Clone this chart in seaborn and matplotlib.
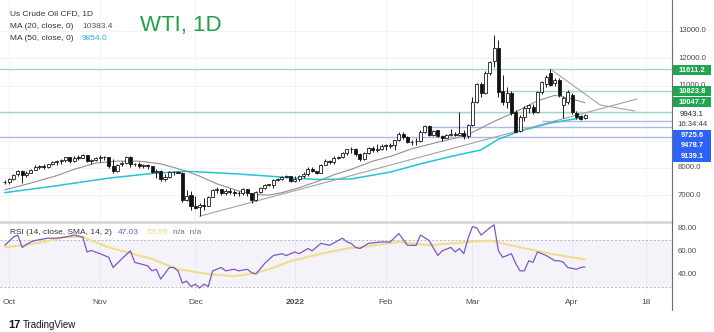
import numpy as np
import pandas as pd
import matplotlib
matplotlib.use("Agg")
import matplotlib.pyplot as plt
from matplotlib.lines import Line2D
from matplotlib.patches import Rectangle
import matplotlib.transforms as mtransforms
import seaborn as sns

sns.set_theme(style="white")
plt.rcParams['font.family'] = ['Liberation Sans', 'DejaVu Sans']

# ---------------- data ----------------
dates = pd.bdate_range('2021-09-30', '2022-04-06')

opens = [7480, 7503, 7590, 7765, 7890, 7740, 7830, 7940, 8050, 8060, 8040, 8130, 8230, 8250, 8300, 8390, 8250, 8380, 8380, 8460, 8270, 8280,
         8360, 8400, 8390, 8080, 7880, 8130, 8190, 8410, 8130, 8160, 8080, 8090, 8070, 7840, 7900, 7590, 7680, 7850, 7840, 7830, 6820, 7000,
         6620, 6560, 6650, 6630, 6950, 7200, 7240, 7090, 7170, 7130, 7070, 7090, 7240, 7080, 6820, 7110, 7280, 7380, 7390, 7560, 7600, 7660, 7700,
         7520, 7610, 7700, 7790, 7950, 7890, 7820, 8120, 8260, 8210, 8380, 8410, 8540, 8700, 8690, 8510, 8330, 8560, 8740, 8660, 8680,
         8820, 8820, 8830, 9030, 9230, 9130, 8940, 8970, 8990, 9310, 9550, 9210, 9370, 9180, 9110, 9190, 9240, 9210, 9280, 9160,
         9580, 10420, 11050, 10740, 11480, 11900, 12380, 10800, 10420, 10740, 10030, 9360, 9850, 10190, 10230, 10050, 10760, 11050,
         11470, 11100, 11210, 10300, 10400, 10660, 10000, 9900, 9830]
highs = [7560, 7620, 7790, 7920, 7940, 7900, 7970, 8110, 8100, 8140, 8160, 8250, 8300, 8320, 8400, 8410, 8420, 8470, 8500, 8470, 8330, 8400,
         8460, 8430, 8400, 8320, 8160, 8240, 8440, 8430, 8200, 8210, 8160, 8150, 8080, 7970, 7940, 7770, 7880, 7890, 7880, 7840, 7180, 7150,
         6960, 6710, 6900, 6980, 7240, 7310, 7250, 7220, 7260, 7180, 7150, 7280, 7240, 7090, 7150, 7300, 7400, 7420, 7580, 7640, 7710, 7750, 7710,
         7690, 7740, 7850, 8020, 8020, 7900, 8160, 8310, 8290, 8430, 8450, 8600, 8710, 8770, 8720, 8530, 8590, 8760, 8800, 8890, 8880,
         8860, 8900, 9030, 9320, 9300, 9160, 9030, 9080, 9400, 9580, 9560, 9390, 9390, 9220, 9250, 9430, 9300, 10050, 9370, 9620,
         10600, 11100, 11150, 11550, 11900, 12850, 12670, 11400, 10950, 10800, 10100, 9950, 10250, 10350, 10320, 10800, 11180, 11400,
         11610, 11300, 11280, 10620, 10850, 10720, 10080, 9950, 9980]
lows = [7410, 7430, 7560, 7720, 7470, 7670, 7810, 7920, 7960, 7950, 8000, 8100, 8100, 8150, 8220, 8200, 8230, 8280, 8350, 8230, 8140, 8250,
        8230, 8300, 8000, 7810, 7860, 8090, 8150, 8040, 8090, 7990, 7990, 7970, 7810, 7630, 7540, 7510, 7620, 7740, 7800, 6760, 6800, 6450,
        6500, 6240, 6480, 6620, 6930, 7100, 7010, 7000, 7040, 6990, 6990, 7030, 6960, 6740, 6810, 7080, 7250, 7350, 7280, 7530, 7550, 7630, 7490,
        7480, 7540, 7630, 7690, 7870, 7790, 7810, 8100, 8130, 8150, 8340, 8360, 8460, 8550, 8450, 8240, 8300, 8510, 8600, 8600, 8640,
        8670, 8740, 8660, 8990, 9050, 8900, 8850, 8830, 8950, 9270, 9170, 9170, 9120, 8980, 9080, 9170, 9180, 9200, 9050, 9110,
        9540, 10380, 10600, 10700, 11400, 11700, 10600, 10300, 10200, 9950, 9350, 9300, 9700, 10020, 9980, 10000, 10700, 10950,
        10980, 10990, 10600, 9830, 10350, 9980, 9800, 9740, 9780]
closes = [7503, 7588, 7762, 7893, 7743, 7830, 7935, 8052, 8064, 8044, 8131, 8228, 8244, 8296, 8387, 8250, 8376, 8376, 8465, 8266, 8281, 8357,
          8405, 8391, 8086, 7881, 8127, 8193, 8415, 8134, 8159, 8079, 8088, 8076, 7836, 7901, 7594, 7675, 7850, 7839, 7830, 6815, 6995, 6618,
          6557, 6650, 6626, 6949, 7205, 7236, 7094, 7167, 7129, 7073, 7087, 7238, 7086, 6823, 7112, 7276, 7379, 7390, 7557, 7598, 7656, 7699, 7521,
          7608, 7699, 7785, 7946, 7890, 7823, 8122, 8264, 8212, 8382, 8410, 8543, 8696, 8690, 8514, 8331, 8560, 8735, 8661, 8682, 8815,
          8820, 8826, 9027, 9231, 9132, 8936, 8966, 8988, 9310, 9546, 9207, 9366, 9176, 9107, 9190, 9235, 9210, 9281, 9159, 9572,
          10420, 11050, 10740, 11480, 11850, 12380, 10780, 10420, 10740, 10020, 9330, 9850, 10190, 10300, 10050, 10760, 11120, 11320,
          11040, 11210, 10660, 10550, 10770, 10040, 9870, 9790, 9943]

# moving averages (bar index, value)
ma20_idx = [0, 6, 12, 16, 21, 26, 31, 36, 39, 42, 45, 49, 54, 58, 61, 64, 68, 72, 76, 80, 85, 89, 94, 99, 103, 107, 113, 118, 123, 127, 130, 134]
ma20_val = [7200, 7450, 7720, 7950, 8180, 8250, 8250, 8150, 8020, 7880, 7700, 7420, 7160, 7030, 7010, 7100, 7280, 7500, 7750, 7950,
            8250, 8420, 8700, 8900, 9050, 9220, 9700, 10050, 10450, 10650, 10560, 10383.4]
ma50_idx = [0, 11, 24, 34, 42, 53, 63, 72, 80, 89, 96, 103, 110, 114, 119, 126, 134]
ma50_val = [7100, 7330, 7630, 7800, 7880, 7790, 7680, 7580, 7600, 7850, 8150, 8420, 8660, 9050, 9350, 9640, 9854.0]

# RSI (14) and its SMA
rsi_idx = [0, 2, 3, 4, 6, 7, 10, 12, 14, 16, 18, 19, 20, 22, 24, 25, 27, 29, 30, 31, 33, 34, 35, 36, 38, 39, 40, 41, 42, 43, 44, 45,
           46, 47, 48, 50, 51, 53, 54, 56, 57, 58, 60, 62, 64, 65, 67, 68, 70, 71, 73, 75, 77, 78, 79, 80, 81, 82, 84, 87, 89, 91,
           93, 95, 96, 98, 100, 101, 103, 104, 105, 106, 107, 108, 109, 110, 112, 113, 114, 115, 117, 118, 119, 120, 121, 122, 123,
           124, 125, 127, 128, 129, 130, 132, 133, 134]
rsi_val = [65.8, 73, 74.7, 64, 68.7, 70, 72, 72, 73, 74.7, 73, 60, 61.3, 58.5, 55.4, 46.5, 54, 61, 51, 50, 48, 43.6, 45, 36.4, 46.5,
           46.5, 43.6, 33, 34.7, 30, 32, 28.7, 32, 30, 43.6, 46.5, 43.6, 45, 43.6, 45, 42, 40.8, 50, 56.9, 58.5, 56.9, 60, 58.5, 63,
           61, 67.5, 65.8, 70, 72, 68.7, 67.5, 64, 63, 67.5, 68.7, 68.7, 76, 65.8, 65.8, 74.7, 70, 57, 61, 64, 60, 63, 58.5, 72, 82,
           81, 74.7, 81, 83.6, 61, 55.4, 58.5, 50, 43.6, 43.6, 52.4, 51, 60, 58.5, 57, 52.4, 52.4, 51, 46.5, 45, 46.5, 47.03]
rsi_sma_idx = [0, 8, 14, 18, 24, 34, 40, 47, 53, 57, 61, 66, 73, 79, 82, 91, 98, 107, 112, 119, 126, 130, 134]
rsi_sma_val = [64, 68, 73, 73, 64, 54, 45, 40.8, 39, 41, 45, 52, 58.5, 63, 64, 68.7, 65.8, 68.7, 70, 64, 58.5, 56, 53.59]

# drawn objects: horizontal levels (value, starting bar) and trend lines (bar, price)
green_levels = [11611.2, 10823.8, 10047.7]
green_start = [-2, 114, -2]
blue_levels = [9725.6, 9478.7, 9139.1]
blue_start = [124, 97, -2]
up_trend_idx = [45, 146]
up_trend_val = [6240, 10518]
down_trend_idx = [126, 137.5, 145.5]
down_trend_val = [11610, 10300, 10080]

last_price = 9943.1
grid_ticks = [7000, 8000, 9000, 10000, 11000, 12000, 13000]
shown_price_ticks = [7000, 8000, 11000, 12000, 13000]   # 9000/10000 are hidden behind the level labels
rsi_ticks = [40, 60, 80]
month_labels = ['Oct', 'Nov', 'Dec', '2022', 'Feb', 'Mar', 'Apr', '18']
month_dates = ['2021-10-01', '2021-11-01', '2021-12-01', '2022-01-03', '2022-02-01', '2022-03-01', '2022-04-01']

assert len(dates) == len(opens) == len(highs) == len(lows) == len(closes)

# ---------------- layout ----------------
W, H = 714, 332
fig = plt.figure(figsize=(W / 100, H / 100), dpi=100)
fig.patch.set_facecolor('white')
PXB, X0 = 4.33, 4.8          # pixels per bar, pixel of bar 0
CHART_R = 672
xlim = ((0 - X0) / PXB, (CHART_R - X0) / PXB)

def fy(py):
    return 1 - py / H

ax = fig.add_axes([0, fy(221), CHART_R / W, 221 / H])
ax.set_xlim(*xlim)
ax.set_ylim(6065, 14131)
ax.set_axis_off()

axr = fig.add_axes([0, fy(293), CHART_R / W, 70 / H])
axr.set_xlim(*xlim)
axr.set_ylim(24.35, 85.2)
axr.set_axis_off()

idx = np.arange(len(dates))
tick_pos = [int(dates.get_loc(pd.Timestamp(d))) for d in month_dates]
tick_pos.append(tick_pos[-1] + (pd.Timestamp('2022-04-18') - pd.Timestamp('2022-04-01')).days)

# grid
for t in grid_ticks:
    ax.axhline(t, color='#f0f3fa', lw=0.7, zorder=0)
for p in tick_pos:
    ax.axvline(p, color='#f0f3fa', lw=0.7, zorder=0)
    axr.axvline(p, color='#f0f3fa', lw=0.7, zorder=0)

# levels
for lv, st in zip(green_levels, green_start):
    ax.hlines(lv, st, xlim[1], color='#9fd9bf', lw=1.0, zorder=1)
for lv, st in zip(blue_levels, blue_start):
    ax.hlines(lv, st, xlim[1], color='#a9b9f2', lw=1.0, zorder=1)

# moving averages & trend lines
sns.lineplot(x=ma50_idx, y=ma50_val, ax=ax, color='#22c4d8', lw=1.1, zorder=2)
sns.lineplot(x=ma20_idx, y=ma20_val, ax=ax, color='#8f8f8f', lw=0.8, zorder=2)
sns.lineplot(x=up_trend_idx, y=up_trend_val, ax=ax, color='#a3a3a3', lw=0.8, zorder=2)
sns.lineplot(x=down_trend_idx, y=down_trend_val, ax=ax, color='#a3a3a3', lw=0.8, zorder=2, sort=False)

# candles
o = np.array(opens, float); c = np.array(closes, float)
hi = np.array(highs, float); lo = np.array(lows, float)
up = c >= o
ax.vlines(idx, lo, hi, color='#1a1a1a', lw=0.7, zorder=3)
bottoms = np.minimum(o, c)
heights = np.maximum(np.abs(c - o), 18)
ax.bar(idx, heights, bottom=bottoms, width=0.7,
       color=np.where(up, 'white', '#111111'), edgecolor='#1a1a1a', linewidth=0.6, zorder=4)

# RSI panel
axr.axhspan(30, 70, color='#7e57c2', alpha=0.07, lw=0, zorder=0)
for lv in (70, 30):
    axr.axhline(lv, color='#b7b9c4', lw=0.7, ls=(0, (2, 2)), zorder=1)
sns.lineplot(x=rsi_sma_idx, y=rsi_sma_val, ax=axr, color='#f2dc8e', lw=1.5, zorder=2)
sns.lineplot(x=rsi_idx, y=rsi_val, ax=axr, color='#7e57c2', lw=0.9, zorder=3)
for a in (ax, axr):
    if a.get_legend():
        a.get_legend().remove()

# separators / scale border
fig.add_artist(Line2D([0, CHART_R / W], [fy(222), fy(222)], transform=fig.transFigure, color='#d6d8de', lw=2))
fig.add_artist(Line2D([CHART_R / W, CHART_R / W], [fy(0), fy(310)], transform=fig.transFigure, color='#6a6d78', lw=0.8))

# price scale labels
tr_main = mtransforms.blended_transform_factory(fig.transFigure, ax.transData)
for t in shown_price_ticks:
    ax.text(678 / W, t, f'{t:.1f}', transform=tr_main, fontsize=5.6, color='#4a4a4a',
            va='center', ha='left', clip_on=False, zorder=5)
tr_rsi = mtransforms.blended_transform_factory(fig.transFigure, axr.transData)
for t in rsi_ticks:
    axr.text(678 / W, t, f'{t:.2f}', transform=tr_rsi, fontsize=5.6, color='#4a4a4a',
             va='center', ha='left', clip_on=False)

# level labels on the scale (stacked label positions in pixels)
def scale_box(text, py, face, fg='white'):
    fig.add_artist(Rectangle((673 / W, fy(py + 5.2)), 38 / W, 10.4 / H, transform=fig.transFigure,
                             facecolor=face, edgecolor='none', zorder=10))
    fig.text(692 / W, fy(py), text, fontsize=5.4, color=fg, ha='center', va='center', zorder=11,
             fontweight='bold' if fg == 'white' else 'normal')

for lv, py in zip(green_levels, [70, 91, 102]):
    scale_box(f'{lv:.1f}', py, '#22a550')
for lv, py in zip(blue_levels, [135.5, 146, 156.5]):
    scale_box(f'{lv:.1f}', py, '#2d62f6')
fig.add_artist(Rectangle((673 / W, fy(130)), 38 / W, 21 / H, transform=fig.transFigure,
                         facecolor='white', edgecolor='none', zorder=10))
fig.text(692 / W, fy(115), f'{last_price:.1f}', fontsize=5.6, color='#222', ha='center', va='center', zorder=11)
fig.text(692 / W, fy(125), '16:34:44', fontsize=5.6, color='#444', ha='center', va='center', zorder=11)

# time axis labels
for lab, p in zip(month_labels, tick_pos):
    fig.text((X0 + p * PXB) / W, fy(303), lab, fontsize=6, color='#4a4a4a', ha='center', va='center',
             fontweight='bold' if lab == '2022' else 'normal')

# legends
fig.text(10 / W, fy(14), 'Us Crude Oil CFD, 1D', fontsize=6, color='#333', va='center')
fig.text(10 / W, fy(26), 'MA (20, close, 0)', fontsize=6, color='#333', va='center')
fig.text(82 / W, fy(26), f'{ma20_val[-1]:.1f}', fontsize=6, color='#555', va='center')
fig.text(10 / W, fy(38), 'MA (50, close, 0)', fontsize=6, color='#333', va='center')
fig.text(82 / W, fy(38), f'{ma50_val[-1]:.1f}', fontsize=6, color='#1cb6d6', va='center')
fig.text(140 / W, fy(25), 'WTI, 1D', fontsize=16, color='#1fa14a', va='center')

fig.text(10 / W, fy(233), 'RSI (14, close, SMA, 14, 2)', fontsize=6, color='#333', va='center')
fig.text(118 / W, fy(233), f'{rsi_val[-1]:.2f}', fontsize=6, color='#7e57c2', va='center')
fig.text(147 / W, fy(233), f'{rsi_sma_val[-1]:.2f}', fontsize=6, color='#f0d66a', va='center')
fig.text(173 / W, fy(233), 'n/a  n/a', fontsize=6, color='#6f6d96', va='center')

# brand
fig.text(8 / W, fy(325), '17', fontsize=8, color='#131722', fontweight='heavy', va='center')
fig.text(23 / W, fy(325), 'TradingView', fontsize=7, color='#131722', va='center')

fig.savefig('out.png', dpi=100, facecolor='white')
